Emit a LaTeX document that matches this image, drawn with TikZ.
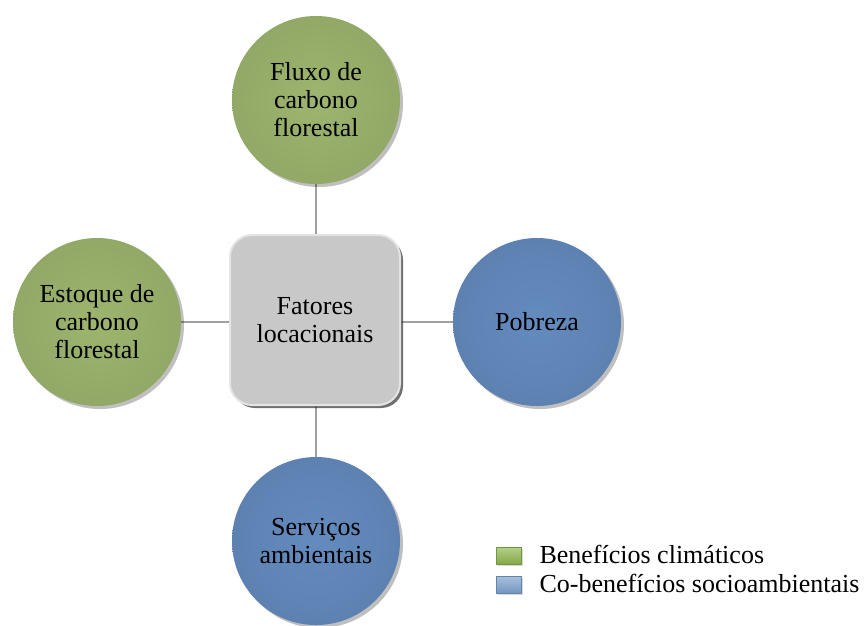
\documentclass[tikz,border=0pt]{standalone}
\usepackage{fontspec}
\setmainfont{Liberation Serif}
\definecolor{fatgreen}{RGB}{157,181,110}
\definecolor{fatblue}{RGB}{100,139,191}
\definecolor{fatgray}{RGB}{200,200,200}
\definecolor{fatline}{RGB}{160,160,160}
\definecolor{keygreen}{RGB}{146,186,80}
\definecolor{keyblue}{RGB}{128,164,210}
\usetikzlibrary{positioning,shadows,shapes.geometric,backgrounds}

\begin{document}
\begin{tikzpicture}[x=1pt, y=-1pt,
  every node/.style={font=\fontsize{26}{28}\selectfont},
  factor/.style={circle, minimum size=168, inner sep=0, align=center,
    drop shadow={shadow xshift=3pt, shadow yshift=-3pt, opacity=.25, fill=black}},
  climate/.style={factor, shading=radial, inner color=fatgreen, outer color=fatgreen!93!black},
  social/.style={factor, shading=radial, inner color=fatblue, outer color=fatblue!93!black},
  hubbox/.style={rounded corners=22, minimum width=170, minimum height=170, align=center,
    fill=fatgray, draw=fatgray!50!white, line width=2pt,
    drop shadow={shadow xshift=3pt, shadow yshift=-3pt, opacity=.7, fill=black!80}},
  keybox/.style={minimum width=25, minimum height=17, inner sep=0, line width=1pt},
  link/.style={fatline, line width=2.5pt}]
\useasboundingbox (0,0) rectangle (866,625);
% Central node
\node[hubbox] (hub) at (315,320) {Fatores\\locacionais};
% Factors
\node[climate] (fluxo) at (316,100) {Fluxo de\\carbono\\florestal};
\node[climate] (estoque) at (97,322) {Estoque de\\carbono\\florestal};
\node[social] (pobreza) at (537,322) {Pobreza};
\node[social] (servicos) at (316,541) {Serviços\\ambientais};
% Connectors
\begin{scope}[on background layer]
\draw[link] (hub.north -| fluxo) -- (fluxo);
\draw[link] (hub.south -| servicos) -- (servicos);
\draw[link] (hub.west |- estoque) -- (estoque);
\draw[link] (hub.east |- pobreza) -- (pobreza);
\end{scope}
% Legend
\node[keybox, draw=keygreen!80!black, top color=keygreen!70!white, bottom color=keygreen!90!black,
  drop shadow={shadow xshift=1pt, shadow yshift=-1.5pt, opacity=.3}] (keyg) at (509,556) {};
\node[keybox, draw=keyblue!80!black, top color=keyblue!70!white, bottom color=keyblue!90!black,
  drop shadow={shadow xshift=1pt, shadow yshift=-1.5pt, opacity=.3}] (keyb) at (509,585) {};
\node[anchor=west] (keygtext) at (536,554) {Benefícios climáticos};
\node[anchor=west] (keybtext) at (536,583) {Co-benefícios socioambientais};
\end{tikzpicture}
\end{document}
